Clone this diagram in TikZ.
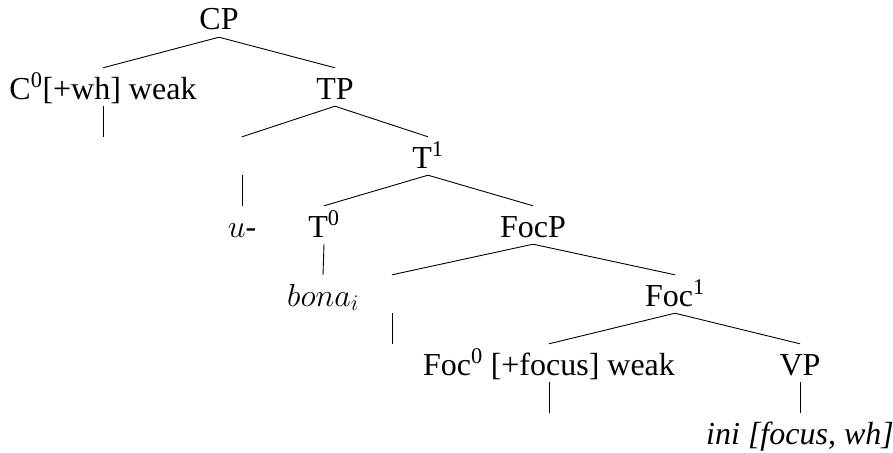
\RequirePackage{fix-cm}
\documentclass[tikz,border=0pt]{standalone}
\usepackage{fontspec}
\setmainfont{Liberation Serif}
\begin{document}
\begin{tikzpicture}[x=1pt,y=-1pt,
  lab/.style={anchor=base,inner sep=0pt,text height=31pt,text depth=7pt,font=\fontsize{32}{38}\selectfont},
  edge/.style={line width=0.9pt}]
\useasboundingbox (0,0) rectangle (893,452);
% rows: baselines 30 + 69 r
\node[lab] (cp)   at (219,30)  {CP};
\node[lab] (c0)   at (103,99)  {C\textsuperscript{0}[+wh] weak};
\node[lab] (tp)   at (335,99)  {TP};
\node[lab] (e0)   at (103,168) {};
\node[lab] (e1)   at (242,168) {};
\node[lab] (t1)   at (428,168) {T\textsuperscript{1}};
\node[lab] (u)    at (242,237) {$u$-};
\node[lab] (t0)   at (324,237) {T\textsuperscript{0}};
\node[lab] (focp) at (533,237) {FocP};
\node[lab] (bona) at (323,306) {$bona_i$};
\node[lab] (e2)   at (392,306) {};
\node[lab] (foc1) at (675,306) {Foc\textsuperscript{1}};
\node[lab] (e3)   at (392,375) {};
\node[lab] (foc0) at (549,375) {Foc\textsuperscript{0} [+focus] weak};
\node[lab] (vp)   at (800,375) {VP};
\node[lab] (e4)   at (549,444) {};
\node[lab] (ini)  at (800,444) {\textit{ini [focus, wh]}};
\draw[edge] (cp.south) -- (c0.north);
\draw[edge] (cp.south) -- (tp.north);
\draw[edge] (c0.south) -- (e0.north);
\draw[edge] (tp.south) -- (e1.north);
\draw[edge] (tp.south) -- (t1.north);
\draw[edge] (e1.south) -- (u.north);
\draw[edge] (t1.south) -- (t0.north);
\draw[edge] (t1.south) -- (focp.north);
\draw[edge] (t0.south) -- (bona.north);
\draw[edge] (focp.south) -- (e2.north);
\draw[edge] (focp.south) -- (foc1.north);
\draw[edge] (e2.south) -- (e3.north);
\draw[edge] (foc1.south) -- (foc0.north);
\draw[edge] (foc1.south) -- (vp.north);
\draw[edge] (foc0.south) -- (e4.north);
\draw[edge] (vp.south) -- (ini.north);
\end{tikzpicture}
\end{document}
